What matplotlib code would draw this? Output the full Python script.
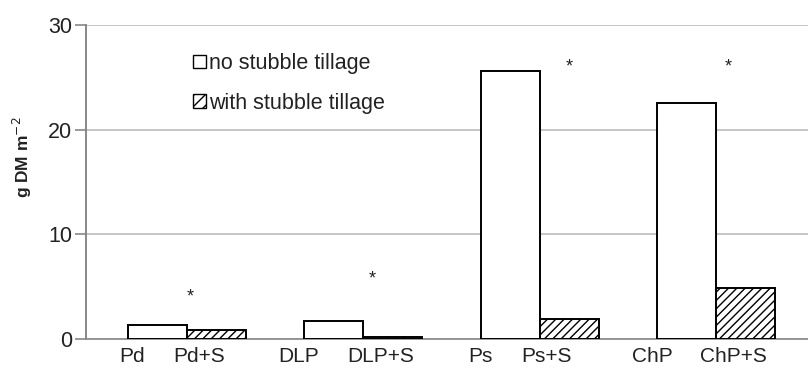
import matplotlib.pyplot as plt
from matplotlib.patches import Patch
import numpy as np

plt.rcParams['font.family'] = ['Liberation Sans', 'DejaVu Sans']

groups = ['Pd', 'DLP', 'Ps', 'ChP']
no_tillage = [1.3, 1.7, 25.6, 22.5]
with_tillage = [0.9, 0.15, 1.9, 4.9]
star_x = [0.02, 0.05, 0.17, 0.07]   # offset of asterisk from group centre
star_y = [4.0, 5.7, 26.0, 26.0]
# the category labels sit a little left of their bars in the original
label_shift_no = [-0.145, -0.20, -0.17, -0.195]
label_shift_with = [-0.10, -0.07, -0.13, -0.07]

x = np.arange(len(groups))
w = 0.335

fig = plt.figure(figsize=(8.08, 3.69), dpi=100)
ax = fig.add_axes([0.1064, 0.0813, 0.8936, 0.851])

ax.bar(x - w/2, no_tillage, w, color='white', edgecolor='black', linewidth=1.4, zorder=3)
ax.bar(x + w/2, with_tillage, w, color='white', edgecolor='black', linewidth=1.4,
       hatch='////', zorder=3)

for xi, dx, sy in zip(x, star_x, star_y):
    ax.text(xi + dx, sy, '*', ha='center', va='center', fontsize=13, color='#222')

ax.set_xlim(-0.573, 3.522)
ax.set_ylim(0, 30)
ax.set_yticks([0, 10, 20, 30])
ax.yaxis.grid(True, color='#bbbbbb', linewidth=1.2, zorder=0)
ax.set_axisbelow(True)

ticks = np.concatenate([x - w/2 + np.array(label_shift_no), x + w/2 + np.array(label_shift_with)])
labels = groups + [g + '+S' for g in groups]
ax.set_xticks(ticks)
ax.set_xticklabels(labels)
ax.tick_params(axis='x', length=0, pad=6, labelsize=15, labelcolor='#222')
ax.tick_params(axis='y', length=8, width=1.2, color='#888888', labelsize=15.5,
               labelcolor='#222', pad=2)

for s in ['top', 'right']:
    ax.spines[s].set_visible(False)
ax.spines['left'].set_color('#888888')
ax.spines['left'].set_linewidth(1.4)
ax.spines['bottom'].set_color('#888888')
ax.spines['bottom'].set_linewidth(1.2)

ax.set_ylabel('g DM m$^{-2}$', fontsize=12.5, fontweight='bold', color='#222')
ax.yaxis.set_label_coords(-0.072, 0.58)

handles = [Patch(facecolor='white', edgecolor='black', label='no stubble tillage'),
           Patch(facecolor='white', edgecolor='black', hatch='///', label='with stubble tillage')]
ax.legend(handles=handles, loc='upper left', bbox_to_anchor=(0.148, 0.91), frameon=False,
          fontsize=15.5, handlelength=0.6, handleheight=0.6, handletextpad=0.15,
          labelspacing=0.85, labelcolor='#222', borderpad=0, borderaxespad=0)

fig.savefig('out.png', dpi=100)
